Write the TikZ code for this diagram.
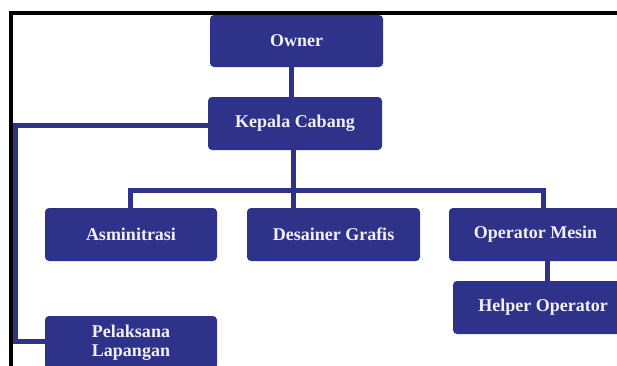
\documentclass[tikz,border=0pt]{standalone}
\usepackage{fontspec}
\setmainfont{Liberation Serif}
\usetikzlibrary{backgrounds}
\definecolor{orgblue}{RGB}{46,50,136}
\definecolor{txt}{RGB}{240,240,245}
\begin{document}
\begin{tikzpicture}[x=1pt,y=-1pt,
  box/.style={fill=orgblue,rounded corners=4pt,inner sep=0pt,
    text=txt,font=\fontsize{18}{19.5}\selectfont\bfseries,align=center,
    minimum width=173pt,minimum height=53pt},
  link/.style={draw=orgblue,line width=5pt},
  frame/.style={draw=black,line width=4pt}]
\useasboundingbox (0,0) rectangle (617,365);
\clip (0,0) rectangle (617,365);
% boxes
\node[box,minimum height=52pt] (owner) at (296.5,41) {Owner};
\node[box,minimum width=174pt] (kepala) at (295,123.5) {Kepala Cabang};
\node[box,minimum width=172pt] (asmin) at (131,234.5) {Asminitrasi};
\node[box] (desain) at (333.5,234.5) {Desainer Grafis};
\node[box] (operator) at (535.5,234.5) {Operator Mesin};
\node[box,minimum width=180pt] (helper) at (543,307.5) {Helper Operator};
\node[box,minimum width=172pt] (pelaksana) at (131,342.5) {Pelaksana\\Lapangan};
% coordinates
\coordinate (busL) at (130.5,190);
\coordinate (busR) at (543.5,190);
\coordinate (leftTop) at (15.5,125.5);
\coordinate (leftBot) at (15.5,341);
% connectors
\begin{scope}[on background layer]
\draw[link] ([xshift=-5pt]owner.south) -- ([xshift=-5pt]owner.south |- kepala.north);
\draw[link] ([xshift=-1.5pt]kepala.south) -- ([xshift=-1.5pt]kepala.south |- desain.north);
\draw[link] (asmin.north -| busL) -- (busL) -- (busR) -- (operator.north -| busR);
\draw[link] ([xshift=11.5pt]operator.south) -- ([xshift=11.5pt]operator.south |- helper.north);
\draw[link] (kepala.west |- leftTop) -- (leftTop) -- (leftBot) -- (pelaksana.west |- leftBot);
\end{scope}
% black frame
\coordinate (fTL) at (11,13);
\coordinate (fTR) at (620,13);
\coordinate (fBL) at (11,368);
\draw[frame] (fTR) -- (fTL) -- (fBL);
\end{tikzpicture}
\end{document}
